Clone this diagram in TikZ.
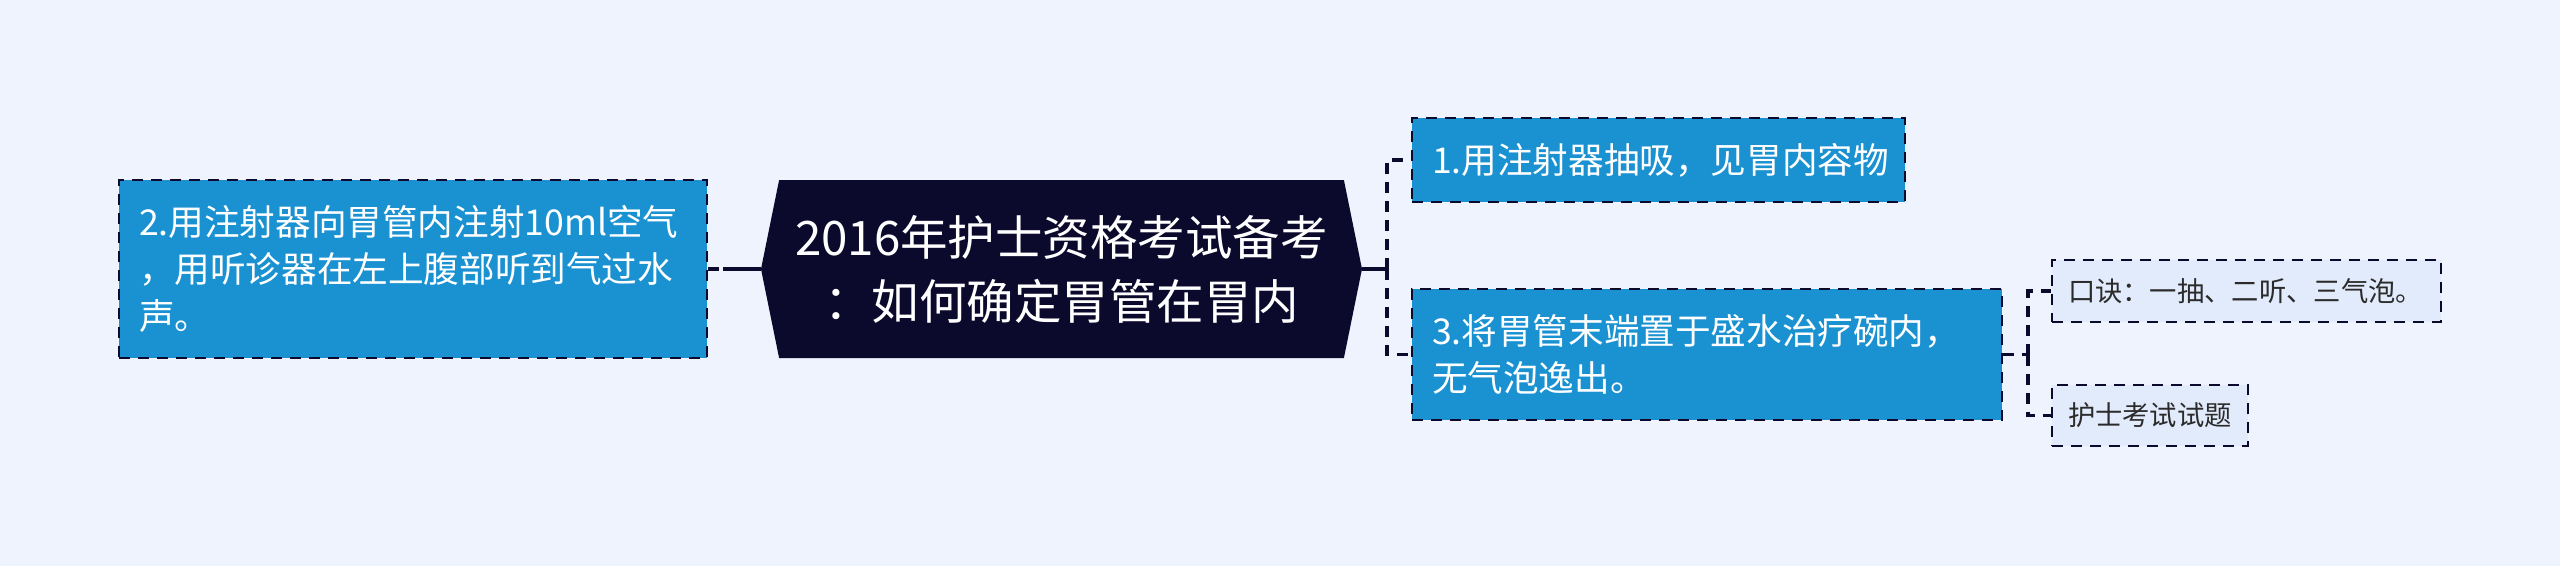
\documentclass[tikz,border=0pt]{standalone}
\usepackage{fontspec}
\setmainfont{Noto Sans CJK SC}
\usetikzlibrary{shapes.symbols}

\definecolor{fond}{HTML}{EEF3FD}
\definecolor{bleu}{HTML}{1A91D1}
\definecolor{nuit}{HTML}{0C0A2C}
\definecolor{pale}{HTML}{E2EBFB}
\definecolor{encre}{HTML}{2B2B2B}

\tikzset{lien/.style = {draw=nuit, line width=3.6pt},
         pointille/.style = {dash pattern=on 11pt off 8pt},
         boite/.style = {draw=nuit, pointille, line width=2.4pt, fill=bleu,
                         text=white, align=left, inner xsep=20pt, inner ysep=0pt,
                         font=\fontsize{35.6}{47}\selectfont},
         feuille/.style = {draw=nuit, pointille, line width=2.4pt, fill=pale,
                           text=encre, align=left, inner xsep=16pt, inner ysep=0pt,
                           font=\fontsize{27.3}{36}\selectfont},
         racine/.style = {signal, signal to=west and east, signal pointer angle=157,
                          fill=nuit, text=white, align=center, inner sep=0pt,
                          font=\fontsize{47.5}{64}\selectfont}
        }

\begin{document}
\begin{tikzpicture}[x=1pt,y=-1pt]
  \fill[fond] (0,0) rectangle (2560,566);
  \useasboundingbox (0,0) rectangle (2560,566);

  \node[racine, minimum width=601pt, minimum height=178pt] (centre) at (1061.5,269)
       {2016年护士资格考试备考\\：如何确定胃管在胃内};

  \node[boite, text width=548pt, minimum height=178pt] (b2) at (413,269)
       {2.用注射器向胃管内注射10ml空气\\，用听诊器在左上腹部听到气过水\\声。};
  \node[boite, text width=453pt, minimum height=84pt] (b1) at (1658.5,160)
       {1.用注射器抽吸，见胃内容物};
  \node[boite, text width=550pt, minimum height=131pt] (b3) at (1707,354.5)
       {3.将胃管末端置于盛水治疗碗内，\\无气泡逸出。};
  \node[feuille, text width=357pt, minimum height=62pt] (kj) at (2246.5,291)
       {口诀：一抽、二听、三气泡。};
  \node[feuille, text width=164pt, minimum height=61pt] (ti) at (2150,415.5)
       {护士考试试题};

  % jonctions
  \coordinate (j0) at (723,269);
  \coordinate (j1) at (1387,269);
  \coordinate (j3) at (2028,354.5);

  \draw[lien, pointille] (b2.east) -- (j0);
  \draw[lien] (j0) -- (centre.west);
  \draw[lien] (centre.east) -- (j1);
  \draw[lien, pointille] (j1) |- (b1.west);
  \draw[lien, pointille] (j1) |- (b3.west);
  \draw[lien, pointille] (b3.east) -- (j3);
  \draw[lien, pointille] (j3) |- (kj.west);
  \draw[lien, pointille] (j3) |- (ti.west);
\end{tikzpicture}
\end{document}
